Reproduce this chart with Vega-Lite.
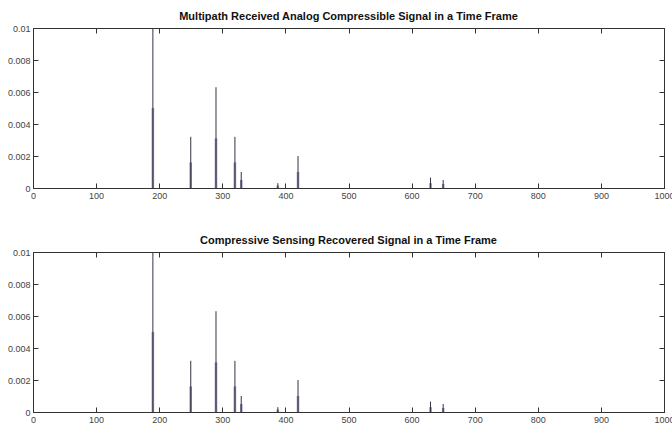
{
  "$schema": "https://vega.github.io/schema/vega-lite/v6.json",
  "padding": {"left": 6, "top": 10, "right": 5, "bottom": 5},
  "background": "white",
  "data": {"values": [
    {"t": 190, "v": 0.01, "h": 0.005},
    {"t": 250, "v": 0.0032, "h": 0.0016},
    {"t": 290, "v": 0.0063, "h": 0.0031},
    {"t": 320, "v": 0.0032, "h": 0.0016},
    {"t": 330, "v": 0.001, "h": 0.0005},
    {"t": 388, "v": 0.0003, "h": 0.00015},
    {"t": 420, "v": 0.002, "h": 0.001},
    {"t": 630, "v": 0.00065, "h": 0.0003},
    {"t": 650, "v": 0.0005, "h": 0.00025}
  ]},
  "spacing": 64,
  "bounds": "flush",
  "vconcat": [
    {
      "title": {"text": "Multipath Received Analog Compressible Signal in a Time Frame"},
      "width": 631, "height": 160,
      "resolve": {"axis": {"x": "independent", "y": "independent"}},
      "layer": [
        {
          "mark": {"type": "rule", "color": "#8a8aac", "strokeWidth": 2.5},
          "encoding": {
            "x": {"field": "t", "type": "quantitative", "scale": {"domain": [0, 1000], "nice": false},
                  "axis": {"orient": "top", "labels": false, "values": [0,100,200,300,400,500,600,700,800,900,1000]}},
            "y": {"field": "h", "type": "quantitative", "scale": {"domain": [0, 0.01], "nice": false},
                  "axis": {"orient": "right", "labels": false, "values": [0,0.002,0.004,0.006,0.008,0.01]}},
            "y2": {"datum": 0}
          }
        },
        {
          "mark": {"type": "rule", "color": "#333344", "strokeWidth": 1},
          "encoding": {
            "x": {"field": "t", "type": "quantitative",
                  "axis": {"orient": "bottom", "format": "d", "labelFlush": false, "values": [0,100,200,300,400,500,600,700,800,900,1000]}},
            "y": {"field": "v", "type": "quantitative",
                  "axis": {"orient": "left", "format": "~g", "values": [0,0.002,0.004,0.006,0.008,0.01]}},
            "y2": {"datum": 0}
          }
        }
      ]
    },
    {
      "title": {"text": "Compressive Sensing Recovered Signal in a Time Frame"},
      "width": 631, "height": 160,
      "resolve": {"axis": {"x": "independent", "y": "independent"}},
      "layer": [
        {
          "mark": {"type": "rule", "color": "#8a8aac", "strokeWidth": 2.5},
          "encoding": {
            "x": {"field": "t", "type": "quantitative", "scale": {"domain": [0, 1000], "nice": false},
                  "axis": {"orient": "top", "labels": false, "values": [0,100,200,300,400,500,600,700,800,900,1000]}},
            "y": {"field": "h", "type": "quantitative", "scale": {"domain": [0, 0.01], "nice": false},
                  "axis": {"orient": "right", "labels": false, "values": [0,0.002,0.004,0.006,0.008,0.01]}},
            "y2": {"datum": 0}
          }
        },
        {
          "mark": {"type": "rule", "color": "#333344", "strokeWidth": 1},
          "encoding": {
            "x": {"field": "t", "type": "quantitative",
                  "axis": {"orient": "bottom", "format": "d", "labelFlush": false, "values": [0,100,200,300,400,500,600,700,800,900,1000]}},
            "y": {"field": "v", "type": "quantitative",
                  "axis": {"orient": "left", "format": "~g", "values": [0,0.002,0.004,0.006,0.008,0.01]}},
            "y2": {"datum": 0}
          }
        }
      ]
    }
  ],
  "config": {
    "font": "Liberation Sans",
    "view": {"stroke": "#333333"},
    "title": {"font": "Liberation Sans", "fontSize": 11, "fontWeight": "bold", "color": "#111111", "offset": 2},
    "axis": {
      "title": null, "grid": false,
      "domainColor": "#333333", "tickColor": "#333333",
      "tickSize": -5, "labelPadding": 8,
      "labelFont": "Liberation Sans", "labelFontSize": 9, "labelColor": "#444444"
    }
  }
}
